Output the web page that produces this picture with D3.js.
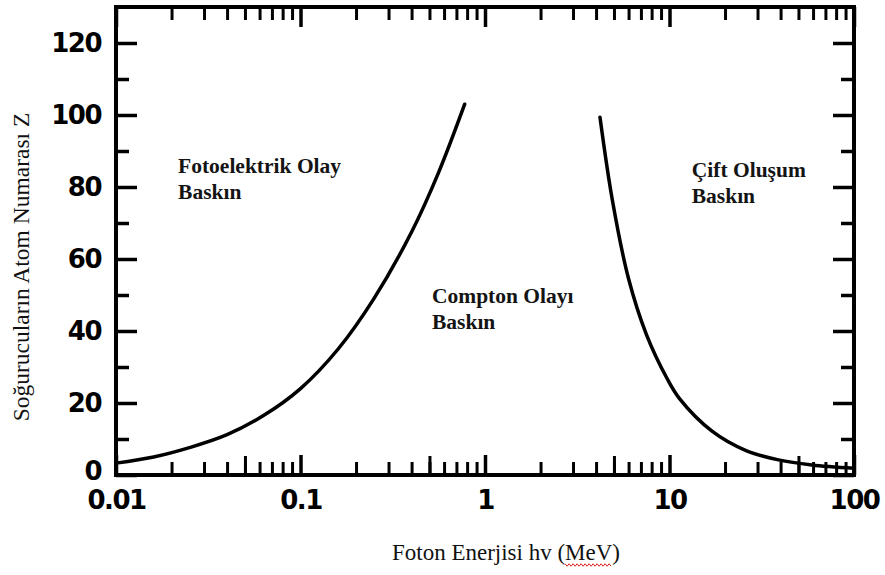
<!DOCTYPE html>
<html>
<head>
<meta charset="utf-8">
<script src="https://cdn.jsdelivr.net/npm/d3@7"></script>
<style>
  html, body { margin: 0; padding: 0; background: #fff; }
  svg { display: block; }
</style>
</head>
<body>
<svg id="chart" width="885" height="575"></svg>
<script>
// Boundary between photoelectric and Compton dominance (photon energy in MeV, absorber Z)
const photoComptonE = [0.01, 0.016, 0.025, 0.04, 0.063, 0.1, 0.16, 0.25, 0.4, 0.56, 0.776];
const photoComptonZ = [3.3, 5.0, 7.6, 11.2, 16.5, 24, 35, 49, 67.5, 84, 103];

// Boundary between Compton and pair production dominance
const comptonPairE = [4.2, 4.9, 6.0, 7.5, 9.7, 11.3, 17, 26, 39, 59, 100];
const comptonPairZ = [99.4, 76.4, 54.5, 39.0, 26.8, 21.3, 12.2, 6.8, 4.2, 2.8, 1.9];

// Axis ticks
const xMajorTicks = [0.01, 0.1, 1, 10, 100];
const xTickLabels = ["0.01", "0.1", "1", "10", "100"];
const xMinorMultipliers = [2, 3, 4, 5, 6, 7, 8, 9];
const yMajorTicks = [0, 20, 40, 60, 80, 100, 120];
const yMinorTicks = [10, 30, 50, 70, 90, 110];

// Region labels: text lines and anchor (energy, Z) of the first baseline
const regionLines = [
  ["Fotoelektrik Olay", "Baskın"],
  ["Compton Olayı", "Baskın"],
  ["Çift Oluşum", "Baskın"]
];
const regionAnchors = [[0.0217, 83.9], [0.516, 47.8], [13.2, 82.8]];

const xTitle = "Foton Enerjisi hv (MeV)";
const yTitle = "Soğurucuların Atom Numarası Z";

const svg = d3.select("#chart");
const plotLeft = 116, plotRight = 854, plotTop = 7, plotBottom = 475;

const x = d3.scaleLog().domain([0.01, 100]).range([plotLeft, plotRight]);
const y = d3.scaleLinear().domain([0, 130]).range([plotBottom, plotTop]);

const minorX = [];
xMajorTicks.slice(0, -1).forEach(d => xMinorMultipliers.forEach(m => minorX.push(d * m)));
const fiveX = minorX.filter(v => v.toPrecision(1).replace(/[0.]/g, "").startsWith("5"));

function styleAxis(g, width) {
  g.select(".domain").remove();
  g.selectAll(".tick line").attr("stroke", "#000").attr("stroke-width", width);
}

const tickFont = g => g.selectAll(".tick text")
  .attr("font-family", "DejaVu Sans, sans-serif").attr("font-weight", "bold")
  .attr("font-size", 26).attr("fill", "#000").attr("letter-spacing", -1.5);

// Bottom ticks (pointing inward)
svg.append("g").attr("transform", `translate(0,${plotBottom})`)
  .call(d3.axisBottom(x).tickValues(minorX).tickSize(-13).tickFormat(""))
  .call(g => styleAxis(g, 3));
svg.append("g").attr("transform", `translate(0,${plotBottom})`)
  .call(d3.axisBottom(x).tickValues(fiveX).tickSize(-19).tickFormat(""))
  .call(g => styleAxis(g, 3));
svg.append("g").attr("transform", `translate(0,${plotBottom})`)
  .call(d3.axisBottom(x).tickValues(xMajorTicks).tickSize(-20)
    .tickFormat((d, i) => xTickLabels[i]).tickPadding(16))
  .call(g => styleAxis(g, 3.5))
  .call(tickFont);

// Top ticks (pointing inward)
svg.append("g").attr("transform", `translate(0,${plotTop})`)
  .call(d3.axisTop(x).tickValues(minorX).tickSize(-13).tickFormat(""))
  .call(g => styleAxis(g, 3));
svg.append("g").attr("transform", `translate(0,${plotTop})`)
  .call(d3.axisTop(x).tickValues(xMajorTicks).tickSize(-20).tickFormat(""))
  .call(g => styleAxis(g, 3.5));

// Left ticks
svg.append("g").attr("transform", `translate(${plotLeft},0)`)
  .call(d3.axisLeft(y).tickValues(yMinorTicks).tickSize(-13).tickFormat(""))
  .call(g => styleAxis(g, 3.5));
svg.append("g").attr("transform", `translate(${plotLeft},0)`)
  .call(d3.axisLeft(y).tickValues(yMajorTicks).tickSize(-21).tickPadding(15))
  .call(g => styleAxis(g, 3.5))
  .call(tickFont)
  .call(g => g.selectAll(".tick text").filter(d => d === 0).attr("y", -4));

// Right ticks
svg.append("g").attr("transform", `translate(${plotRight},0)`)
  .call(d3.axisRight(y).tickValues(yMinorTicks).tickSize(-13).tickFormat(""))
  .call(g => styleAxis(g, 3.5));
svg.append("g").attr("transform", `translate(${plotRight},0)`)
  .call(d3.axisRight(y).tickValues(yMajorTicks).tickSize(-21).tickFormat(""))
  .call(g => styleAxis(g, 3.5));

// Frame
svg.append("rect")
  .attr("x", plotLeft).attr("y", plotTop)
  .attr("width", plotRight - plotLeft).attr("height", plotBottom - plotTop)
  .attr("fill", "none").attr("stroke", "#000").attr("stroke-width", 4);

// Boundary curves
const line = d3.line()
  .x(d => x(d[0])).y(d => y(d[1]))
  .curve(d3.curveCatmullRom.alpha(0.5));

svg.append("path")
  .datum(d3.zip(photoComptonE, photoComptonZ))
  .attr("d", line)
  .attr("fill", "none").attr("stroke", "#000").attr("stroke-width", 3.5)
  .attr("stroke-linecap", "round");

svg.append("path")
  .datum(d3.zip(comptonPairE, comptonPairZ))
  .attr("d", line)
  .attr("fill", "none").attr("stroke", "#000").attr("stroke-width", 3.5)
  .attr("stroke-linecap", "round");

// Region labels
regionLines.forEach((lines, i) => {
  const ax = x(regionAnchors[i][0]);
  const t = svg.append("text")
    .attr("x", ax).attr("y", y(regionAnchors[i][1]))
    .attr("font-family", "Liberation Serif, Times New Roman, serif")
    .attr("font-weight", "bold").attr("font-size", 21.5).attr("fill", "#141414");
  lines.forEach((s, j) => {
    t.append("tspan").attr("x", ax).attr("dy", j === 0 ? 0 : 26).text(s);
  });
});

// Axis titles
const xt = svg.append("text")
  .attr("x", 506).attr("y", 560)
  .attr("text-anchor", "middle")
  .attr("font-family", "Liberation Serif, Times New Roman, serif")
  .attr("font-size", 23).attr("fill", "#111")
  .text(xTitle);

svg.append("text")
  .attr("transform", "translate(29,267) rotate(-90)")
  .attr("text-anchor", "middle")
  .attr("font-family", "Liberation Serif, Times New Roman, serif")
  .attr("font-size", 23.5).attr("fill", "#111")
  .text(yTitle);

// Spell-check style wavy underline below "MeV"
{
  const node = xt.node();
  const i0 = xTitle.indexOf("MeV");
  const x0 = node.getStartPositionOfChar(i0).x;
  const x1 = node.getEndPositionOfChar(i0 + 2).x;
  const yy = 565;
  const pts = [];
  for (let px = x0, k = 0; px <= x1; px += 2, k++) pts.push([px, yy + (k % 2 ? 1.2 : -1.2)]);
  svg.append("path").attr("d", d3.line()(pts))
    .attr("fill", "none").attr("stroke", "#e02020").attr("stroke-width", 1);
}
</script>
</body>
</html>
